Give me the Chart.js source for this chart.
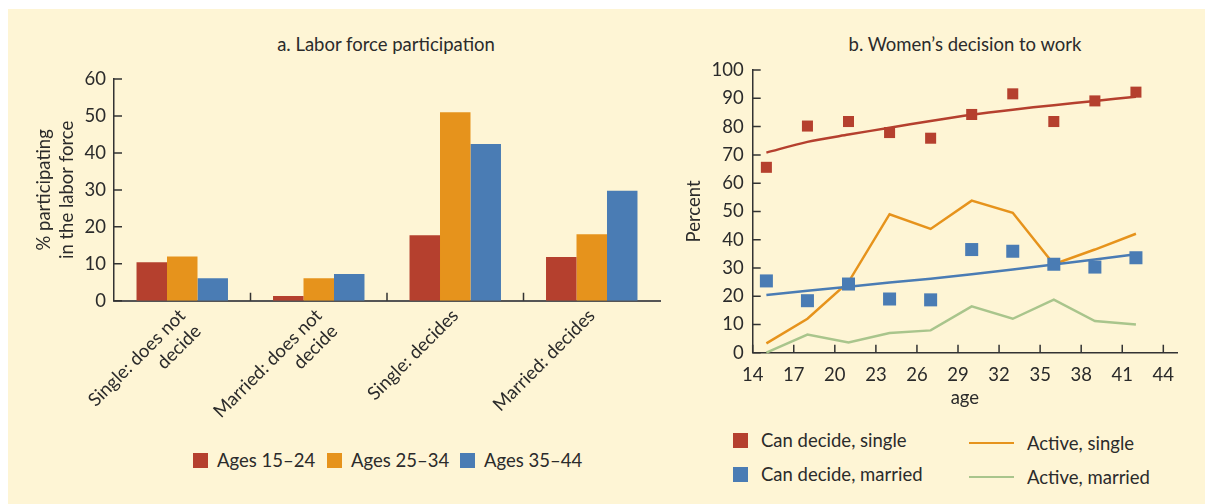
<!DOCTYPE html>
<html>
<head>
<meta charset="utf-8">
<script src="https://cdn.jsdelivr.net/npm/chart.js@4.4.1/dist/chart.umd.min.js"></script>
<style>
  body { margin: 0; width: 1205px; height: 504px; background: #fff; overflow: hidden; position: relative;
         font-family: Lato, "Noto Sans", sans-serif; color: #2b2b2b; }
  #panel { position: absolute; left: 8px; top: 9px; width: 1197px; height: 495px; background: #fef5d5; }
  canvas { position: absolute; }
  .title { position: absolute; font-size: 18.5px; text-align: center; white-space: nowrap; }
  .legend { position: absolute; font-size: 18.5px; }
  .item { position: absolute; display: flex; align-items: center; white-space: nowrap; }
  .swatch { display: inline-block; width: 15px; height: 15px; margin-right: 9px; }
  .lineSwatch { display: inline-block; width: 45px; height: 2.5px; margin-right: 13px; }
</style>
</head>
<body>
<div id="panel"></div>
<div class="title" style="left:186px; top:33px; width:400px;">a. Labor force participation</div>
<div class="title" style="left:765px; top:33px; width:400px;">b. Women’s decision to work</div>
<canvas id="bars" width="662" height="372" style="left:8px; top:60px;"></canvas>
<canvas id="ages" width="552" height="372" style="left:640px; top:50px;"></canvas>
<div id="legendA" class="legend"></div>
<div id="legendB" class="legend"></div>
<script>
// panel a
const barCategories = [['Single: does not', 'decide'], ['Married: does not', 'decide'], 'Single: decides', 'Married: decides'];
const ageGroups = ['Ages 15–24', 'Ages 25–34', 'Ages 35–44'];
const ages15to24 = [10.4, 1.3, 17.7, 11.8];
const ages25to34 = [12.0, 6.1, 51.0, 18.0];
const ages35to44 = [6.1, 7.2, 42.4, 29.8];

// panel b
const ages = [15, 18, 21, 24, 27, 30, 33, 36, 39, 42];
const canDecideSingle = [65.6, 80.2, 81.8, 77.9, 75.9, 84.3, 91.6, 81.8, 89.1, 92.2];
const canDecideMarried = [25.4, 18.4, 24.3, 19.0, 18.7, 36.5, 35.9, 31.3, 30.3, 33.6];
const fitSingle = [70.8, 74.6, 77.2, 79.6, 82.0, 84.2, 86.0, 87.6, 89.1, 90.6];
const fitMarried = [20.4, 21.9, 23.3, 24.8, 26.2, 27.8, 29.4, 31.2, 33.0, 34.8];
const activeSingle = [3.3, 12.0, 25.0, 49.0, 43.8, 53.8, 49.5, 31.3, 36.5, 42.1];
const activeMarried = [0, 6.4, 3.6, 7.0, 7.9, 16.4, 12.0, 18.8, 11.2, 10.0];
const ageTicks = [14, 17, 20, 23, 26, 29, 32, 35, 38, 41, 44];

const RED = '#b5402e';
const ORANGE = '#e6931c';
const BLUE = '#4a7cb4';
const GREEN = '#a9c58c';
const TEXT = '#2b2b2b';
const FONT = 'Lato, "Noto Sans", sans-serif';
const SIZE = 18.5;

// short tick marks drawn inside the plot area
const innerTicks = {
  id: 'innerTicks',
  afterDatasetsDraw(chart) {
    const { ctx, chartArea } = chart;
    const len = 8;
    ctx.save();
    ctx.strokeStyle = '#333';
    ctx.lineWidth = 1.5;
    ctx.beginPath();
    const x = chart.scales.x;
    if (x.type === 'category') {
      for (let i = 0; i < x.ticks.length - 1; i++) {
        const px = (x.getPixelForTick(i) + x.getPixelForTick(i + 1)) / 2;
        ctx.moveTo(px, chartArea.bottom);
        ctx.lineTo(px, chartArea.bottom - len);
      }
    } else {
      x.ticks.forEach((t, i) => {
        const px = x.getPixelForTick(i);
        ctx.moveTo(px, chartArea.bottom);
        ctx.lineTo(px, chartArea.bottom - len);
      });
    }
    const y = chart.scales.y;
    y.ticks.forEach((t, i) => {
      const py = y.getPixelForTick(i);
      ctx.moveTo(chartArea.left, py);
      ctx.lineTo(chartArea.left + len, py);
    });
    ctx.stroke();
    ctx.restore();
  }
};

const barColors = [RED, ORANGE, BLUE];
const barSeries = [ages15to24, ages25to34, ages35to44];

new Chart(document.getElementById('bars'), {
  type: 'bar',
  data: {
    labels: barCategories,
    datasets: ageGroups.map((label, i) => ({
      label,
      data: barSeries[i],
      backgroundColor: barColors[i],
      borderWidth: 0,
      categoryPercentage: 0.67,
      barPercentage: 1.0,
    })),
  },
  options: {
    responsive: false,
    animation: false,
    layout: { padding: { top: 17.7, right: 10, left: 0, bottom: 0 } },
    plugins: { legend: { display: false }, tooltip: { enabled: false } },
    scales: {
      x: {
        grid: { display: false, drawTicks: false },
        border: { display: true, color: '#555', width: 2 },
        ticks: { color: TEXT, font: { family: FONT, size: SIZE }, maxRotation: 45, minRotation: 45, padding: 4, autoSkip: false },
        afterFit(scale) { scale.height = 131.3; },
      },
      y: {
        min: 0,
        max: 60,
        grid: { display: false, drawTicks: false },
        border: { display: true, color: '#333', width: 1.5 },
        ticks: { stepSize: 10, color: TEXT, font: { family: FONT, size: SIZE }, padding: 8 },
        title: { display: true, text: ['% participating', 'in the labor force'], color: TEXT,
                 font: { family: FONT, size: SIZE, lineHeight: 1.25 }, padding: { top: 24, bottom: 0 } },
        afterFit(scale) { scale.width = 106; },
      },
    },
  },
  plugins: [innerTicks],
});

const pts = (vals) => ages.map((a, i) => ({ x: a, y: vals[i] }));

const scatterSets = [
  { label: 'Can decide, single', data: pts(canDecideSingle), color: RED, radius: 7.8 },
  { label: 'Can decide, married', data: pts(canDecideMarried), color: BLUE, radius: 9.2 },
];
const lineSets = [
  { label: 'Active, single', data: pts(activeSingle), color: ORANGE },
  { label: 'Active, married', data: pts(activeMarried), color: GREEN },
];

new Chart(document.getElementById('ages'), {
  type: 'line',
  data: {
    datasets: [
      ...scatterSets.map((s) => ({
        label: s.label, data: s.data, showLine: false, pointStyle: 'rect',
        pointRadius: s.radius, pointBackgroundColor: s.color, pointBorderWidth: 0, clip: false,
      })),
      { label: 'fit single', data: pts(fitSingle), borderColor: RED, borderWidth: 2.5, pointRadius: 0, tension: 0.3 },
      { label: 'fit married', data: pts(fitMarried), borderColor: BLUE, borderWidth: 2.5, pointRadius: 0 },
      ...lineSets.map((s) => ({
        label: s.label, data: s.data, borderColor: s.color, borderWidth: 2.5, pointRadius: 0, clip: false,
      })),
    ],
  },
  options: {
    responsive: false,
    animation: false,
    layout: { padding: { top: 16.7, right: 15, left: 0, bottom: 0 } },
    plugins: { legend: { display: false }, tooltip: { enabled: false } },
    scales: {
      x: {
        type: 'linear',
        min: 14,
        max: 45,
        afterBuildTicks(scale) { scale.ticks = ageTicks.map((v) => ({ value: v })); },
        grid: { display: false, drawTicks: false },
        border: { display: true, color: '#333', width: 1.5 },
        ticks: { color: TEXT, font: { family: FONT, size: SIZE }, padding: 11 },
        title: { display: true, text: 'age', color: TEXT, font: { family: FONT, size: SIZE }, padding: { top: 0, bottom: 13 } },
        afterFit(scale) { scale.height = 69.3; },
      },
      y: {
        min: 0,
        max: 100,
        grid: { display: false, drawTicks: false },
        border: { display: true, color: '#333', width: 1.5 },
        ticks: { stepSize: 10, color: TEXT, font: { family: FONT, size: SIZE }, padding: 9 },
        title: { display: true, text: 'Percent', color: TEXT, font: { family: FONT, size: SIZE }, padding: { top: 43, bottom: 0 } },
        afterFit(scale) { scale.width = 112.7; },
      },
    },
  },
  plugins: [innerTicks],
});

// legends
const legendA = document.getElementById('legendA');
const legendAX = [193, 327, 460];
ageGroups.forEach((label, i) => {
  const el = document.createElement('div');
  el.className = 'item';
  el.style.left = legendAX[i] + 'px';
  el.style.top = '449px';
  el.innerHTML = `<span class="swatch" style="background:${barColors[i]}"></span>${label}`;
  legendA.appendChild(el);
});

const legendB = document.getElementById('legendB');
const legendBRows = [429, 463];
scatterSets.forEach((s, i) => {
  const el = document.createElement('div');
  el.className = 'item';
  el.style.left = '733px';
  el.style.top = legendBRows[i] + 'px';
  el.innerHTML = `<span class="swatch" style="background:${s.color};margin-right:13px"></span>${s.label}`;
  legendB.appendChild(el);
});
lineSets.forEach((s, i) => {
  const el = document.createElement('div');
  el.className = 'item';
  el.style.left = '969px';
  el.style.top = (legendBRows[i] + 3) + 'px';
  el.innerHTML = `<span class="lineSwatch" style="background:${s.color}"></span>${s.label}`;
  legendB.appendChild(el);
});
</script>
</body>
</html>
